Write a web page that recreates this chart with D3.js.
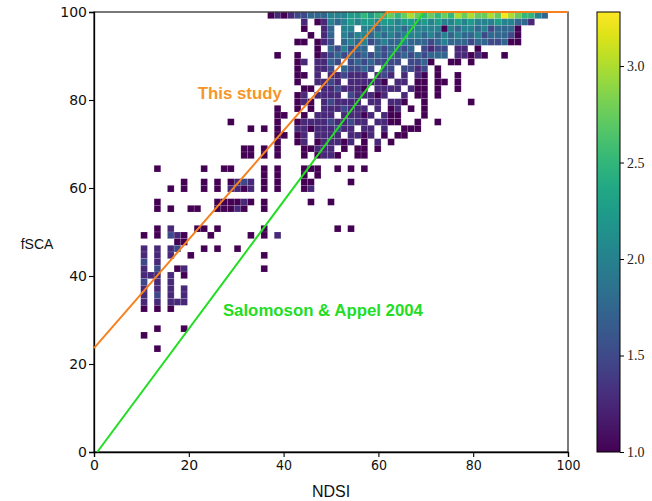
<!DOCTYPE html>
<html>
<head>
<meta charset="utf-8">
<script src="https://cdn.jsdelivr.net/npm/d3@7"></script>
<style>
  body { margin: 0; background: #fff; }
  svg { display: block; }
</style>
</head>
<body>
<div id="chart"></div>
<script>
// 2D histogram: NDSI split in 71 bins, fSCA in 66 bins
const ndsiBins = 71;
const fscaBins = 66;

// value (log10 count) for each digit used in heatRows
const levelValues = [1.0, 1.25, 1.5, 1.75, 2.0, 2.25, 2.5, 2.75, 3.0, 3.25];

// one string per fSCA bin, from the top (fSCA = 100) downwards,
// one char per NDSI bin, '.' = empty, groups of 5 bins
const heatRows = [
  "..... ..... ..... ..... ..... .0101 22333 44455 65667 67876 76768 78778 79876 643..",
  "..... ..... ..... ..... ..... ..... .1.01 43454 55455 45545 45445 45444 54433 1....",
  "..... ..... ..... ..... ..... ..... .0..1 3.44. 44344 43444 44043 44342 3330.",
  "..... ..... ..... ..... ..... ..... ..0.1 3.434 43434 34443 43434 33423 3320.",
  "..... ..... ..... ..... ..... ..... 00.01 2.343 42343 34333 23433 32332 2300.",
  "..... ..... ..... ..... ..... ..... ...0. 32423 3.323 323.2 122.1 1.0..",
  "..... ..... ..... ..... ..... ..0.. 0..01 23232 32323 23232 333.1 1010. .0...",
  "..... ..... ..... ..... ..... ..... 01.11 32.23 23222 2.223 0..00 .0...",
  "..... ..... ..... ..... ..... ..... 0..11 2.322 32.22 .2212 .0...",
  "..... ..... ..... ..... ..... ..... 00.1. 11211 1.121 .1.10 .0..0",
  "..... ..... ..... ..... ..... ..... 0..11 21.11 1110. 11.00 .00.0",
  "..... ..... ..... ..... ..... ..... .00.1 12111 0.111 1.100 .0..0",
  "..... ..... ..... ..... ..... ..... 01.11 11.21 1101. .1.00 .0...",
  "..... ..... ..... ..... ..... ..... 010.1 21111 .11.1 10..0 ..... .0...",
  "..... ..... ..... ..... ..... ..0.. 0.0.1 11211 1.1.0 1.0.0",
  "..... ..... ..... ..... ..... ..00. .0.11 1.111 01.10 0...0",
  "..... ..... ..... ..... 0.... ..0.. 01111 21121 1.110 0..0. .0...",
  "..... ..... ..... ..... ...0. 0.0.. 11011 1211. 11.1. .000.",
  "..... ..... ..... ..... ..... ..00. 01.11 11.11 01.0. 00...",
  "..... ..... ..... ..... ..... ..0.. 01.01 1101. 0.1.0",
  "..... ..... ..... ..... ..00. 0.0.. .0011 1.0.0 0.0..",
  "..... ..... ..... ..... ..00. 0.0.. .0.01 10..0 0....",
  "",
  "..... ....0 ..... .0..0 0.... 0.0.. .000. .0.0. 0....",
  "..... ..... ..... ..... ..... 0.0.. .0.0.",
  "..... ..... ...0. .0.0. 0121. 0.0.. .00.. ...0.",
  "..... ..... .0.0. .0.0. 1101. 0.0.. .01..",
  "",
  "..... ....0 ..... ...00 0010. 0.... ..0.. 0....",
  "..... ....0 .0..0 0..00 010.. 0....",
  "",
  "",
  "..... ....0 .1... 00.0. ..... 0.... ..... .0.0.",
  "..... ..0.0 .210. ..0.. ...0. 0.1..",
  "..... ..... ..00.",
  "..... ..1.1 .12.. .0.0. .0...",
  "..... ..1.1 .1..0 ..... ..... 0....",
  "..... ..2.1",
  "..... ..1.2 ..01. ..... ..... 0....",
  "..... ..111 .1.0.",
  "..... ..2.1 .1...",
  "..... ..1.1 .1.1.",
  "..... ..1.2 .1.1.",
  "..... ..1.1 .111.",
  "..... ..0.0 .0...",
  "",
  "",
  "..... ....0 ...0.",
  "..... ..0..",
  "",
  "..... ....0"
];

const axisTicks = [0, 20, 40, 60, 80, 100];
const colorTicks = [1.0, 1.5, 2.0, 2.5, 3.0];
const colorMin = 1.0;
const colorMax = 3.28;

// fitted lines fSCA = intercept + slope * NDSI (clipped at 100)
const fitNames = ["This study", "Salomoson & Appel 2004"];
const fitIntercepts = [23.6, -1];
const fitSlopes = [1.236, 1.45];

const width = 652, height = 501;
const plot = {left: 94, right: 568, top: 12, bottom: 452};

const svg = d3.select("#chart").append("svg")
    .attr("width", width)
    .attr("height", height);

const x = d3.scaleLinear().domain([0, 100]).range([plot.left, plot.right]);
const y = d3.scaleLinear().domain([0, 100]).range([plot.bottom, plot.top]);
const color = v => d3.interpolateViridis((v - colorMin) / (colorMax - colorMin));

// cells
const bw = 100 / ndsiBins, bh = 100 / fscaBins;
const cells = [];
heatRows.forEach((row, r) => {
    const s = row.replace(/ /g, "");
    for (let i = 0; i < s.length; i++) {
        if (s[i] !== ".") cells.push({i: i, r: r, v: levelValues[+s[i]]});
    }
});

svg.append("g").selectAll("rect")
    .data(cells)
    .join("rect")
    .attr("x", d => x(d.i * bw))
    .attr("y", d => y(100 - d.r * bh))
    .attr("width", d => x((d.i + 1) * bw) - x(d.i * bw))
    .attr("height", d => y(100 - (d.r + 1) * bh) - y(100 - d.r * bh))
    .attr("fill", d => color(d.v))
    .attr("stroke", "#ffffff")
    .attr("stroke-opacity", 0.22)
    .attr("stroke-width", 0.6);

// frame
svg.append("rect")
    .attr("x", plot.left).attr("y", plot.top)
    .attr("width", plot.right - plot.left).attr("height", plot.bottom - plot.top)
    .attr("fill", "none").attr("stroke", "#333").attr("stroke-width", 1.3);

// axes
const xAxis = svg.append("g")
    .attr("transform", `translate(0,${plot.bottom})`)
    .call(d3.axisBottom(x).tickValues(axisTicks).tickSize(5).tickPadding(3));
const yAxis = svg.append("g")
    .attr("transform", `translate(${plot.left},0)`)
    .call(d3.axisLeft(y).tickValues(axisTicks).tickSize(5).tickPadding(2));

[xAxis, yAxis].forEach(a => {
    a.select(".domain").attr("stroke", "#000").attr("stroke-width", 1.3);
    a.selectAll(".tick line").attr("stroke", "#000").attr("stroke-width", 1.1);
    a.selectAll(".tick text")
        .attr("fill", "#111")
        .style("font-family", "DejaVu Sans")
        .style("font-size", "14px");
});
xAxis.selectAll(".tick text")
    .style("font-family", d => d < 40 ? "DejaVu Sans" : "DejaVu Sans Condensed");

// fitted lines
const lineColors = ["#f5821f", "#22dd22"];
const line = d3.line().x(d => x(d[0])).y(d => y(d[1]));
[1, 0].forEach(k => {
    const a = fitIntercepts[k], b = fitSlopes[k];
    const x0 = Math.max(0, -a / b);
    const xTop = (100 - a) / b;
    const pts = [[x0, a + b * x0], [xTop, 100], [100, 100]];
    svg.append("path")
        .attr("d", line(pts))
        .attr("fill", "none")
        .attr("stroke", lineColors[k])
        .attr("stroke-width", 2);
});

// line labels
svg.append("text")
    .attr("x", x(21.9)).attr("y", y(80.3))
    .attr("fill", "#f5962a")
    .attr("textLength", 84).attr("lengthAdjust", "spacingAndGlyphs")
    .style("font-family", "Liberation Sans").style("font-weight", "bold").style("font-size", "16px")
    .text(fitNames[0]);
svg.append("text")
    .attr("x", x(27.2)).attr("y", y(30.9))
    .attr("fill", "#22dd22")
    .attr("textLength", 200).attr("lengthAdjust", "spacingAndGlyphs")
    .style("font-family", "Liberation Sans").style("font-weight", "bold").style("font-size", "16px")
    .text(fitNames[1]);

// axis titles
svg.append("text")
    .attr("x", 37).attr("y", 249)
    .attr("text-anchor", "middle")
    .attr("fill", "#111")
    .style("font-family", "Liberation Sans").style("font-size", "14px")
    .text("fSCA");
svg.append("text")
    .attr("x", 331).attr("y", 497)
    .attr("text-anchor", "middle")
    .attr("fill", "#111")
    .style("font-family", "Liberation Sans").style("font-size", "16px")
    .text("NDSI");

// colour bar
const cb = {x: 597, w: 23};
const cy = d3.scaleLinear().domain([colorMin, colorMax]).range([plot.bottom, plot.top]);
const grad = svg.append("defs").append("linearGradient")
    .attr("id", "cbar").attr("x1", 0).attr("y1", 1).attr("x2", 0).attr("y2", 0);
d3.range(0, 1.0001, 0.05).forEach(t => {
    grad.append("stop").attr("offset", t).attr("stop-color", d3.interpolateViridis(t));
});
svg.append("rect")
    .attr("x", cb.x).attr("y", plot.top)
    .attr("width", cb.w).attr("height", plot.bottom - plot.top)
    .attr("fill", "url(#cbar)")
    .attr("stroke", "#000").attr("stroke-width", 1);
const cAxis = svg.append("g")
    .attr("transform", `translate(${cb.x + cb.w},0)`)
    .call(d3.axisRight(cy).tickValues(colorTicks).tickFormat(d3.format(".1f")).tickSize(4).tickPadding(3));
cAxis.select(".domain").remove();
cAxis.selectAll(".tick line").attr("stroke", "#000");
cAxis.selectAll(".tick text")
    .attr("fill", "#222")
    .style("font-family", "Liberation Serif")
    .style("font-size", "14px");
</script>
</body>
</html>
